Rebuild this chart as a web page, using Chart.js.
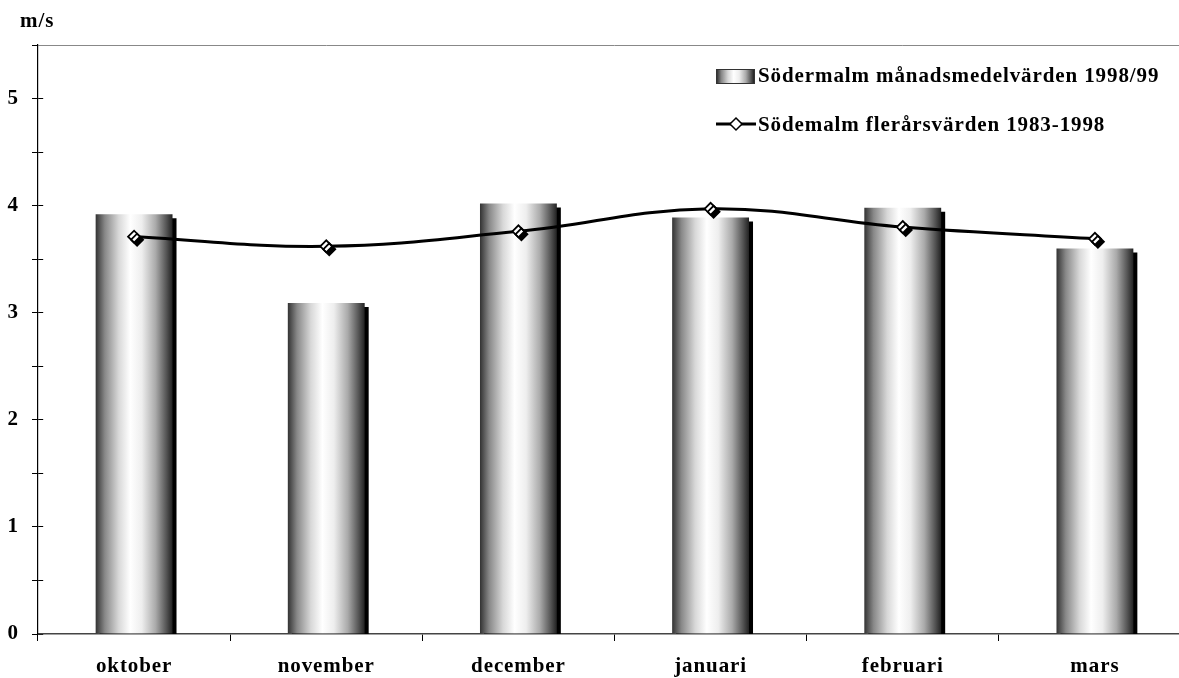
<!DOCTYPE html>
<html>
<head>
<meta charset="utf-8">
<script src="https://cdn.jsdelivr.net/npm/chart.js@4/dist/chart.umd.min.js"></script>
<style>
  html, body { margin: 0; padding: 0; background: #fff; overflow: hidden; }
  #wrap { position: relative; width: 1179px; height: 678px; overflow: hidden; }
  canvas { position: absolute; left: 0; top: 0; }
  .txt { position: absolute; font-family: "Liberation Serif", "Times New Roman", serif; font-weight: bold;
         font-size: 21px; line-height: 21px; letter-spacing: 0.9px; color: #000; white-space: nowrap; }
  .sw { position: absolute; width: 37px; height: 13px; border: 1px solid #333;
        background: linear-gradient(to right, #333 0%, #888 12%, #d8d8d8 30%, #fff 45%, #eee 60%, #aaa 78%, #555 92%, #222 100%); }
</style>
</head>
<body>
<div id="wrap">
  <canvas id="c" width="1200" height="678"></canvas>
  <div class="txt" style="left:20px; top:10px;">m/s</div>
  <div class="sw" style="left:716px; top:69px;"></div>
  <div class="txt" style="left:758px; top:65px;">Södermalm månadsmedelvärden 1998/99</div>
  <svg style="position:absolute; left:714px; top:116px;" width="44" height="16">
    <line x1="2" y1="8" x2="42" y2="8" stroke="#000" stroke-width="2.8"/>
    <polygon points="22,2 28,8 22,14 16,8" fill="#fff" stroke="#000" stroke-width="1.5"/>
  </svg>
  <div class="txt" style="left:758px; top:114px;">Södemalm flerårsvärden 1983-1998</div>
</div>
<script>
const CATEGORIES = ['oktober', 'november', 'december', 'januari', 'februari', 'mars'];
const MONTHLY_1998_99 = [3.92, 3.09, 4.02, 3.89, 3.98, 3.60];
const LONGTERM_1983_1998 = [3.71, 3.62, 3.76, 3.97, 3.80, 3.69];
const BAR_LABEL = 'Södermalm månadsmedelvärden 1998/99';
const LINE_LABEL = 'Södemalm flerårsvärden 1983-1998';
const Y_MIN = 0, Y_MAX = 5.5, Y_STEP = 0.5;

const FONT = { family: '"Liberation Serif", "Times New Roman", serif', weight: 'bold', size: 21 };

function barGradient(c) {
  const chart = c.chart;
  const xs = chart.scales && chart.scales.x;
  if (!xs || c.dataIndex === undefined || !xs.width) return '#aaa';
  const cx = xs.getPixelForValue(c.dataIndex);
  const w = (xs.width / CATEGORIES.length) * 0.4;
  const g = chart.ctx.createLinearGradient(cx - w / 2, 0, cx + w / 2, 0);
  g.addColorStop(0, '#333333');
  g.addColorStop(0.12, '#888888');
  g.addColorStop(0.3, '#d8d8d8');
  g.addColorStop(0.45, '#ffffff');
  g.addColorStop(0.6, '#eeeeee');
  g.addColorStop(0.78, '#aaaaaa');
  g.addColorStop(0.92, '#555555');
  g.addColorStop(1, '#222222');
  return g;
}

const shadowPlugin = {
  id: 'shadow',
  beforeDraw(chart) { chart.ctx.letterSpacing = '0.9px'; },
  beforeDatasetDraw(chart, args) {
    const ds = chart.data.datasets[args.index];
    if (!ds.shadow) return;
    const ctx = chart.ctx;
    ctx.save();
    ctx.shadowColor = '#000';
    ctx.shadowBlur = 0;
    ctx.shadowOffsetX = ds.shadow;
    ctx.shadowOffsetY = ds.shadow;
  },
  afterDatasetDraw(chart, args) {
    const ds = chart.data.datasets[args.index];
    if (!ds.shadow) return;
    chart.ctx.restore();
  }
};

new Chart(document.getElementById('c'), {
  data: {
    labels: CATEGORIES,
    datasets: [
      {
        type: 'line', label: LINE_LABEL, data: LONGTERM_1983_1998, order: 1,
        showLine: false, pointStyle: 'rectRot', pointRadius: 6, pointHoverRadius: 6,
        pointBackgroundColor: '#fff', pointBorderColor: '#000', pointBorderWidth: 1.8,
        shadow: 3, clip: false
      },
      {
        type: 'line', label: LINE_LABEL, data: LONGTERM_1983_1998, order: 2,
        borderColor: '#000', borderWidth: 3, tension: 0.4, pointRadius: 0, fill: false
      },
      {
        type: 'bar', label: BAR_LABEL, data: MONTHLY_1998_99, order: 3,
        backgroundColor: barGradient, borderWidth: 0,
        categoryPercentage: 1, barPercentage: 0.4, shadow: 4, clip: 0
      }
    ]
  },
  options: {
    responsive: false,
    devicePixelRatio: 1,
    animation: false,
    layout: { padding: { left: 0, right: 9, top: 45, bottom: 0 } },
    plugins: { legend: { display: false }, tooltip: { enabled: false }, title: { display: false } },
    scales: {
      x: {
        type: 'category',
        offset: true,
        grid: { offset: true, drawOnChartArea: false, drawTicks: true, tickLength: 7, color: '#000', tickColor: '#000', lineWidth: 1 },
        border: { display: true, color: '#444', width: 1.5 },
        ticks: { font: FONT, color: '#000', padding: 13, maxRotation: 0 },
        afterFit(s) { s.height = 44; }
      },
      y: {
        min: Y_MIN, max: Y_MAX,
        grid: {
          drawOnChartArea: true, drawTicks: true, tickLength: 6, lineWidth: 1,
          color: (c) => (c.tick && c.tick.value === Y_MAX) ? '#888' : '#000',
          tickColor: '#000'
        },
        border: {
          display: true, color: '#000', width: 1.2,
          dash: (c) => (c.tick && c.tick.value === Y_MAX) ? [] : [5, 5000]
        },
        ticks: {
          stepSize: Y_STEP, font: FONT, color: '#000', padding: 13,
          callback: (v) => (Math.abs(v - Math.round(v)) < 1e-9 ? String(Math.round(v)) : '')
        },
        afterFit(s) { s.width = 38; }
      }
    }
  },
  plugins: [shadowPlugin]
});
</script>
</body>
</html>
